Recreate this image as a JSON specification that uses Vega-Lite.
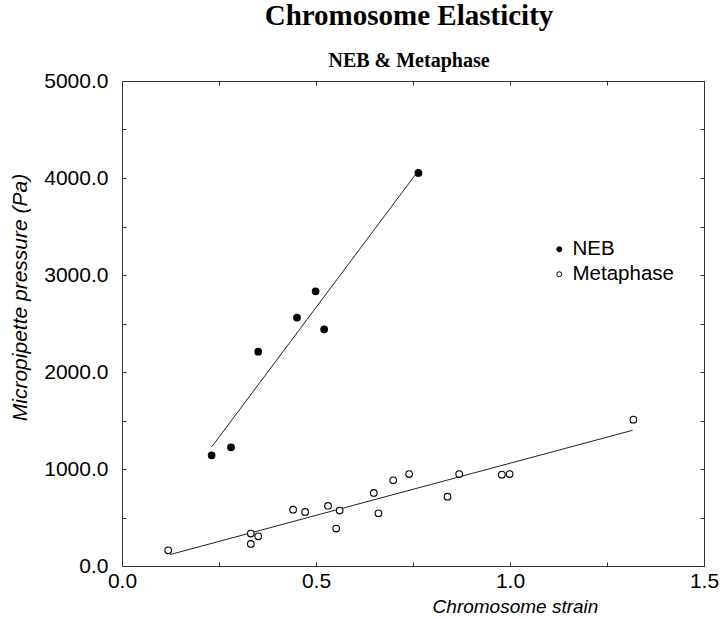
{
  "$schema": "https://vega.github.io/schema/vega-lite/v6.json",
  "width": 582,
  "height": 485,
  "autosize": {"type": "none"},
  "padding": {"left": 122, "top": 81, "right": 16, "bottom": 54},
  "background": "white",
  "title": {
    "text": "Chromosome Elasticity",
    "subtitle": "NEB & Metaphase",
    "font": "Liberation Serif",
    "fontSize": 29,
    "fontWeight": "bold",
    "color": "black",
    "subtitleFont": "Liberation Serif",
    "subtitleFontSize": 20,
    "subtitleFontWeight": "bold",
    "subtitleColor": "black",
    "anchor": "middle",
    "dx": -4,
    "offset": -1,
    "subtitlePadding": 20
  },
  "config": {
    "view": {"stroke": "#333", "strokeWidth": 1},
    "axis": {
      "grid": false,
      "domain": false,
      "labelFont": "Liberation Sans",
      "labelFontSize": 21,
      "labelColor": "black",
      "labelOverlap": false,
      "labelFlush": false,
      "titleFont": "Liberation Sans",
      "titleFontStyle": "italic",
      "titleFontWeight": "normal",
      "titleColor": "black",
      "tickColor": "#333",
      "tickSize": -4
    }
  },
  "datasets": {
    "pts": [
      {"phase": "NEB", "strain": 0.231, "pressure": 1141},
      {"phase": "NEB", "strain": 0.281, "pressure": 1224},
      {"phase": "NEB", "strain": 0.351, "pressure": 2210},
      {"phase": "NEB", "strain": 0.451, "pressure": 2561},
      {"phase": "NEB", "strain": 0.499, "pressure": 2832},
      {"phase": "NEB", "strain": 0.521, "pressure": 2440},
      {"phase": "NEB", "strain": 0.764, "pressure": 4052},
      {"phase": "Metaphase", "strain": 0.119, "pressure": 162},
      {"phase": "Metaphase", "strain": 0.332, "pressure": 334},
      {"phase": "Metaphase", "strain": 0.332, "pressure": 227},
      {"phase": "Metaphase", "strain": 0.351, "pressure": 306},
      {"phase": "Metaphase", "strain": 0.441, "pressure": 581},
      {"phase": "Metaphase", "strain": 0.472, "pressure": 557},
      {"phase": "Metaphase", "strain": 0.531, "pressure": 619},
      {"phase": "Metaphase", "strain": 0.552, "pressure": 386},
      {"phase": "Metaphase", "strain": 0.561, "pressure": 571},
      {"phase": "Metaphase", "strain": 0.649, "pressure": 753},
      {"phase": "Metaphase", "strain": 0.661, "pressure": 543},
      {"phase": "Metaphase", "strain": 0.699, "pressure": 884},
      {"phase": "Metaphase", "strain": 0.740, "pressure": 948},
      {"phase": "Metaphase", "strain": 0.839, "pressure": 715},
      {"phase": "Metaphase", "strain": 0.869, "pressure": 948},
      {"phase": "Metaphase", "strain": 0.979, "pressure": 942},
      {"phase": "Metaphase", "strain": 0.999, "pressure": 948},
      {"phase": "Metaphase", "strain": 1.318, "pressure": 1509}
    ],
    "fits": [
      {"phase": "NEB", "strain": 0.231, "pressure": 1227},
      {"phase": "NEB", "strain": 0.755, "pressure": 4028},
      {"phase": "Metaphase", "strain": 0.124, "pressure": 118},
      {"phase": "Metaphase", "strain": 1.316, "pressure": 1399}
    ]
  },
  "resolve": {"axis": {"x": "independent", "y": "independent"}},
  "layer": [
    {
      "data": {"name": "fits"},
      "mark": {"type": "line", "color": "#222", "strokeWidth": 1},
      "encoding": {
        "x": {
          "field": "strain", "type": "quantitative",
          "scale": {"domain": [0, 1.5], "nice": false, "zero": false},
          "axis": {"orient": "top", "labels": false, "title": null,
                   "values": [0, 0.25, 0.5, 0.75, 1, 1.25, 1.5]}
        },
        "y": {
          "field": "pressure", "type": "quantitative",
          "scale": {"domain": [0, 5000], "nice": false, "zero": false},
          "axis": {"orient": "right", "labels": false, "title": null,
                   "values": [0, 500, 1000, 1500, 2000, 2500, 3000, 3500, 4000, 4500, 5000]}
        },
        "detail": {"field": "phase"}
      }
    },
    {
      "data": {"name": "pts"},
      "mark": {"type": "point", "shape": "circle", "filled": true, "stroke": "black", "strokeWidth": 1.1, "opacity": 1, "size": 44},
      "encoding": {
        "x": {
          "field": "strain", "type": "quantitative",
          "scale": {"domain": [0, 1.5], "nice": false, "zero": false},
          "axis": {
            "orient": "bottom",
            "values": [0, 0.25, 0.5, 0.75, 1, 1.25, 1.5],
            "labelExpr": "datum.value % 0.5 === 0 ? format(datum.value, '.1f') : ''",
            "labelPadding": 8,
            "title": "Chromosome strain",
            "titleFontSize": 19,
            "titleX": 393,
            "titleY": 46,
            "titleAlign": "center",
            "titleBaseline": "alphabetic"
          }
        },
        "y": {
          "field": "pressure", "type": "quantitative",
          "scale": {"domain": [0, 5000], "nice": false, "zero": false},
          "axis": {
            "orient": "left",
            "values": [0, 500, 1000, 1500, 2000, 2500, 3000, 3500, 4000, 4500, 5000],
            "labelExpr": "datum.value % 1000 === 0 ? format(datum.value, '.1f') : ''",
            "labelPadding": 18,
            "title": "Micropipette pressure (Pa)",
            "titleFontSize": 21,
            "titleAngle": 270,
            "titleX": -96,
            "titleY": 216,
            "titleAlign": "center",
            "titleBaseline": "alphabetic"
          }
        },
        "fill": {
          "field": "phase", "type": "nominal",
          "scale": {"domain": ["NEB", "Metaphase"], "range": ["black", "white"]},
          "legend": {
            "orient": "none",
            "legendX": 427,
            "legendY": 158,
            "title": null,
            "padding": 0,
            "labelFont": "Liberation Sans",
            "labelFontSize": 20.5,
            "labelColor": "black",
            "symbolType": "circle",
            "symbolSize": 25,
            "symbolStrokeColor": "black",
            "symbolStrokeWidth": 1,
            "labelOffset": 3,
            "rowPadding": 4
          }
        }
      }
    }
  ]
}
